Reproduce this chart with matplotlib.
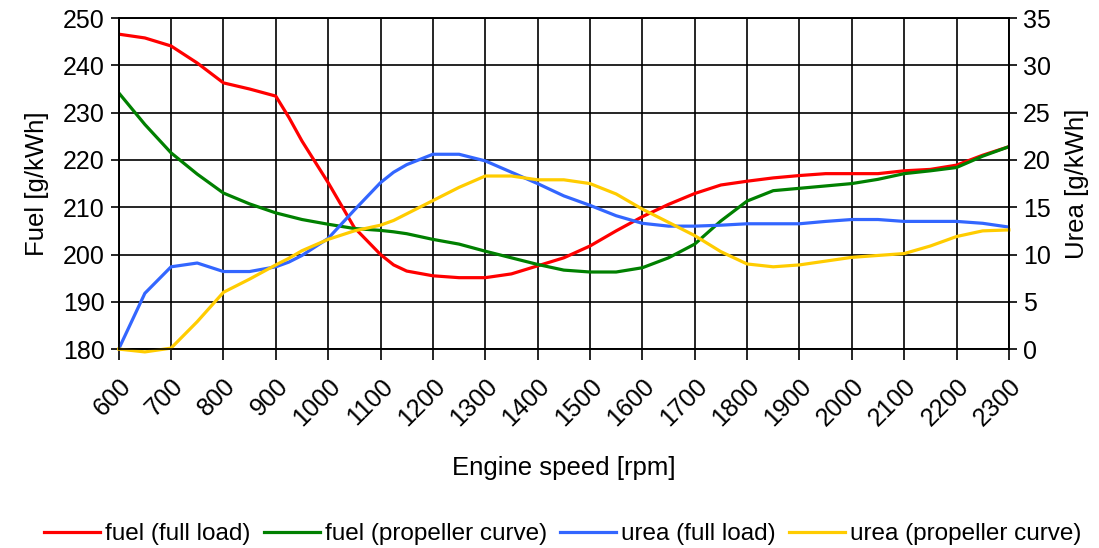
import numpy as np
import matplotlib
matplotlib.use('Agg')
import matplotlib.pyplot as plt

plt.rcParams['font.family'] = ['Liberation Sans', 'DejaVu Sans']

rpm = [600, 650, 700, 750, 800, 850, 900, 925, 950, 1000, 1050, 1100, 1125, 1150,
       1200, 1250, 1300, 1350, 1400, 1450, 1500, 1550, 1600, 1650, 1700, 1750,
       1800, 1850, 1900, 1950, 2000, 2050, 2100, 2150, 2200, 2250, 2300]

fuel_full = [246.6, 245.8, 244.1, 240.5, 236.3, 235.0, 233.5, 229.0, 224.0, 215.2, 205.7,
             200.0, 197.8, 196.5, 195.5, 195.1, 195.1, 195.9, 197.6, 199.3, 201.8, 205.0,
             208.0, 210.6, 212.9, 214.7, 215.5, 216.2, 216.7, 217.1, 217.1, 217.1, 217.7,
             218.0, 218.9, 221.0, 222.8]
fuel_prop = [234.2, 227.5, 221.5, 217.0, 213.0, 210.7, 208.8, 208.1, 207.4, 206.4, 205.5,
             205.1, 204.8, 204.4, 203.2, 202.2, 200.7, 199.3, 197.9, 196.7, 196.3, 196.3,
             197.2, 199.3, 202.2, 207.1, 211.3, 213.5, 214.0, 214.5, 215.0, 215.9, 217.1,
             217.7, 218.4, 220.8, 222.8]
urea_full = [0.0, 5.9, 8.7, 9.1, 8.2, 8.2, 8.7, 9.2, 9.9, 11.7, 14.7, 17.6, 18.7, 19.5,
             20.6, 20.6, 19.9, 18.7, 17.5, 16.2, 15.2, 14.1, 13.3, 13.0, 13.0, 13.1,
             13.25, 13.25, 13.25, 13.5, 13.7, 13.7, 13.5, 13.5, 13.5, 13.3, 12.9]
urea_prop = [0.0, -0.3, 0.1, 2.9, 6.0, 7.4, 8.9, 9.6, 10.4, 11.6, 12.5, 13.1, 13.6, 14.3,
             15.7, 17.1, 18.3, 18.3, 17.9, 17.9, 17.5, 16.4, 14.8, 13.4, 12.0, 10.3,
             9.0, 8.7, 8.9, 9.3, 9.7, 9.9, 10.1, 10.9, 11.9, 12.5, 12.6]

xticks = list(range(600, 2301, 100))

fig = plt.figure(figsize=(10.99, 5.48), dpi=100)
ax1 = fig.add_axes([0.108, 0.363, 0.81, 0.604])
ax2 = ax1.twinx()

lw = 2.3
fs = 18
fsl = 18.5
l1, = ax1.plot(rpm, fuel_full, color='#FF0000', lw=lw, label='fuel (full load)')
l2, = ax1.plot(rpm, fuel_prop, color='#008000', lw=lw, label='fuel (propeller curve)')
l3, = ax2.plot(rpm, urea_full, color='#3366FF', lw=lw, label='urea (full load)')
l4, = ax2.plot(rpm, urea_prop, color='#FFCC00', lw=lw, label='urea (propeller curve)',
               clip_on=False)

ax1.set_xlim(600, 2300)
ax1.set_ylim(180, 250)
ax2.set_ylim(0, 35)
ax1.set_xticks(xticks)
ax1.set_xticklabels([str(t) for t in xticks], rotation=45, ha='right',
                    rotation_mode='anchor', fontsize=fs)
ax1.set_yticks(range(180, 251, 10))
ax2.set_yticks(range(0, 36, 5))
ax1.tick_params(axis='y', labelsize=fs, length=6, width=1.2, pad=4)
ax1.tick_params(axis='x', length=8, width=1.2, pad=10)
ax2.tick_params(axis='y', labelsize=fs, length=6, width=1.2, pad=4)
ax1.grid(True, color='black', lw=1.2)
ax1.set_axisbelow(True)

for ax in (ax1, ax2):
    for s in ax.spines.values():
        s.set_color('black')
        s.set_linewidth(1.2)

ax1.set_xlabel('Engine speed [rpm]', fontsize=fsl, labelpad=18)
ax1.set_ylabel('Fuel [g/kWh]', fontsize=fsl, labelpad=10)
ax2.set_ylabel('Urea [g/kWh]', fontsize=fsl, labelpad=10)

fig.legend(handles=[l1, l2, l3, l4], loc='lower center', ncol=4, frameon=False,
           fontsize=17.5, bbox_to_anchor=(0.512, -0.035), handlelength=2.3,
           handletextpad=0.2, columnspacing=0.55)

fig.savefig('out.png', dpi=100)
